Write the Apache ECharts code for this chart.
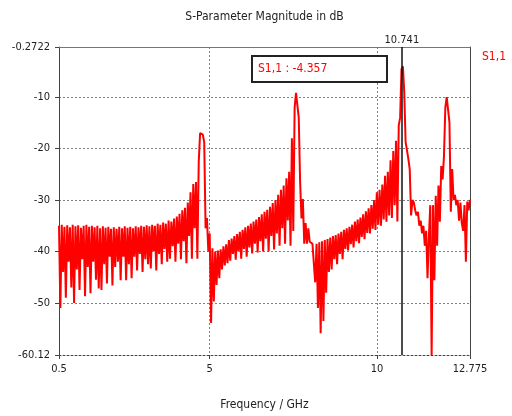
<!DOCTYPE html>
<html>
<head>
<meta charset="utf-8">
<script src="https://cdn.jsdelivr.net/npm/echarts@6/dist/echarts.min.js"></script>
<style>
  html, body { margin: 0; padding: 0; background: #fff; }
  #chart { width: 512px; height: 416px; }
</style>
</head>
<body>
<div id="chart"></div>
<script>
// sweep range (GHz) and |S11| in dB at equal frequency steps
const fStart = 0.5;
const fStop = 12.775;
const s11dB = [
  -35.0, -51.0, -34.8, -44.0, -35.2, -49.0, -34.9, -42.0, -35.3, -47.0,
  -34.8, -50.0, -35.1, -43.5, -34.9, -47.5, -35.4, -41.5, -35.0, -48.7,
  -34.8, -43.0, -35.2, -48.1, -35.0, -42.0, -35.3, -45.5, -35.0, -47.2,
  -35.5, -47.5, -35.1, -42.5, -35.4, -46.2, -35.2, -41.0, -35.6, -46.6,
  -35.3, -43.0, -35.6, -42.0, -35.2, -45.6, -35.5, -41.0, -35.1, -45.6,
  -35.4, -42.5, -35.2, -45.2, -35.5, -41.0, -35.1, -43.7, -35.3, -40.5,
  -35.0, -44.0, -35.2, -41.5, -34.9, -42.5, -35.1, -43.3, -34.8, -40.0,
  -35.0, -43.7, -34.6, -40.5, -34.8, -42.5, -34.4, -39.5, -34.6, -42.0,
  -34.0, -41.4, -34.2, -39.0, -33.6, -42.0, -33.2, -38.5, -32.7, -41.5,
  -32.0, -38.0, -31.5, -42.3, -30.5, -37.0, -28.5, -41.4, -26.9, -35.5,
  -26.5, -41.4, -22.6, -17.0, -16.7, -17.3, -18.8, -35.5, -33.5, -40.0,
  -36.5, -53.9, -39.4, -49.7, -40.0, -46.5, -39.8, -45.2, -39.6, -43.5,
  -39.0, -42.7, -38.6, -42.3, -37.8, -41.8, -37.5, -40.5, -37.0, -41.6,
  -36.6, -40.0, -36.2, -41.4, -35.8, -39.5, -35.3, -41.0, -35.0, -39.2,
  -34.6, -40.4, -34.2, -38.5, -33.8, -40.2, -33.3, -38.0, -32.8, -40.0,
  -32.3, -37.5, -31.9, -40.0, -31.3, -37.0, -30.6, -39.6, -30.0, -36.5,
  -29.0, -38.9, -28.0, -35.5, -27.2, -38.5, -25.8, -34.0, -24.5, -38.9,
  -18.0, -36.0, -12.0, -9.2, -9.0, -14.0, -26.5, -33.6, -29.8, -38.5,
  -34.5, -38.5, -35.5, -38.1, -38.0, -38.5, -38.3, -46.0, -38.5, -51.0,
  -38.2, -55.9, -38.0, -53.5, -37.8, -48.0, -37.6, -44.0, -37.3, -43.5,
  -37.0, -41.5, -36.8, -42.5, -36.5, -40.5, -36.2, -41.5, -35.8, -39.5,
  -35.5, -39.8, -35.2, -38.6, -34.8, -39.2, -34.2, -38.0, -33.8, -38.4,
  -33.4, -37.2, -32.8, -37.6, -32.2, -36.4, -31.6, -36.5, -31.0, -35.6,
  -30.0, -35.8, -28.5, -34.8, -28.0, -35.0, -27.0, -33.8, -25.3, -34.2,
  -24.5, -33.0, -22.3, -33.5, -20.5, -31.0, -18.5, -34.2, -15.5, -14.0,
  -4.6, -4.0, -9.0, -18.7, -18.5, -22.0, -24.0, -33.0, -30.0, -30.5,
  -32.0, -33.0, -32.3, -35.0, -34.0, -36.5, -35.0, -38.9, -36.0, -45.2,
  -37.0, -31.0, -60.1, -31.0, -45.6, -29.2, -38.9, -27.2, -34.2, -23.4,
  -26.0, -21.5, -12.0, -10.0, -10.0, -14.9, -32.3, -24.0, -30.0, -29.0,
  -31.0, -30.0, -34.0, -30.5, -34.5, -36.0, -31.0, -42.0, -30.3, -32.0,
  -30.0
];
const xTicks = [0.5, 5, 10, 12.775];
const yTicks = [-60.12, -50, -40, -30, -20, -10, -0.2722];
const markerFreq = 10.741;
const markerValue = -4.357;

const FONT = '"DejaVu Sans Condensed", "DejaVu Sans", sans-serif';
const fStep = (fStop - fStart) / (s11dB.length - 1);
const points = s11dB.map((v, i) => [fStart + i * fStep, v]);

const chart = echarts.init(document.getElementById('chart'), null, { renderer: 'canvas' });

const gridLine = { show: true, lineStyle: { color: '#808080', type: [2, 2], width: 1 } };

chart.setOption({
  animation: false,
  textStyle: { fontFamily: FONT },
  grid: { left: 59, top: 47, width: 411, height: 310, containLabel: false },
  legend: {
    data: ['S1,1'],
    icon: 'none',
    left: 472, top: 45,
    itemWidth: 0, itemHeight: 14,
    textStyle: { color: '#ff0000', fontSize: 12, fontFamily: FONT }
  },
  xAxis: [
    {
      type: 'value', min: fStart, max: fStop,
      name: 'Frequency / GHz', nameLocation: 'middle', nameGap: 44,
      nameTextStyle: { color: '#222', fontSize: 12, fontFamily: FONT },
      axisLine: { show: true, lineStyle: { color: '#444', type: [2, 2], width: 1 } },
      axisTick: { show: true, customValues: xTicks, length: 4, lineStyle: { color: '#444' } },
      axisLabel: { customValues: xTicks, margin: 9, color: '#222', fontSize: 11, formatter: v => String(v) },
      splitLine: gridLine
    },
    {
      type: 'value', position: 'top', min: fStart, max: fStop,
      axisLine: { show: true, lineStyle: { color: '#777', width: 1 } },
      axisTick: { show: false }, axisLabel: { show: false }, splitLine: { show: false }
    }
  ],
  yAxis: [
    {
      type: 'value', min: -60.12, max: -0.2722,
      axisLine: { show: true, lineStyle: { color: '#444', width: 1 } },
      axisTick: { show: true, customValues: yTicks, length: 4, lineStyle: { color: '#444' } },
      axisLabel: { customValues: yTicks, margin: 9, color: '#222', fontSize: 11, formatter: v => String(v) },
      splitLine: gridLine
    },
    {
      type: 'value', position: 'right', min: -60.12, max: -0.2722,
      axisLine: { show: true, lineStyle: { color: '#444', width: 1 } },
      axisTick: { show: false }, axisLabel: { show: false }, splitLine: { show: false }
    }
  ],
  series: [
    {
      name: 'S1,1',
      type: 'line',
      data: points,
      showSymbol: false,
      symbol: 'none',
      itemStyle: { color: '#ff0000' },
      lineStyle: { color: '#ff0000', width: 2 },
      markLine: {
        silent: true,
        symbol: ['none', 'none'],
        lineStyle: { color: '#111', width: 1.5, type: 'solid' },
        label: { show: true, position: 'end', distance: 1, formatter: String(markerFreq), color: '#222', fontSize: 11, fontFamily: FONT },
        data: [{ xAxis: markerFreq }]
      }
    }
  ],
  graphic: [
    {
      type: 'text', x: 264.5, y: 17, z: 10,
      style: { text: 'S-Parameter Magnitude in dB', align: 'center', verticalAlign: 'middle', fill: '#222', font: '12px ' + FONT }
    },
    {
      type: 'rect', z: 10,
      shape: { x: 252, y: 56, width: 135, height: 26 },
      style: { fill: '#fff', stroke: '#222', lineWidth: 2 }
    },
    {
      type: 'text', x: 258, y: 69, z: 11,
      style: { text: 'S1,1 : ' + markerValue, verticalAlign: 'middle', fill: '#ff0000', font: '12px ' + FONT }
    }
  ]
});
</script>
</body>
</html>
